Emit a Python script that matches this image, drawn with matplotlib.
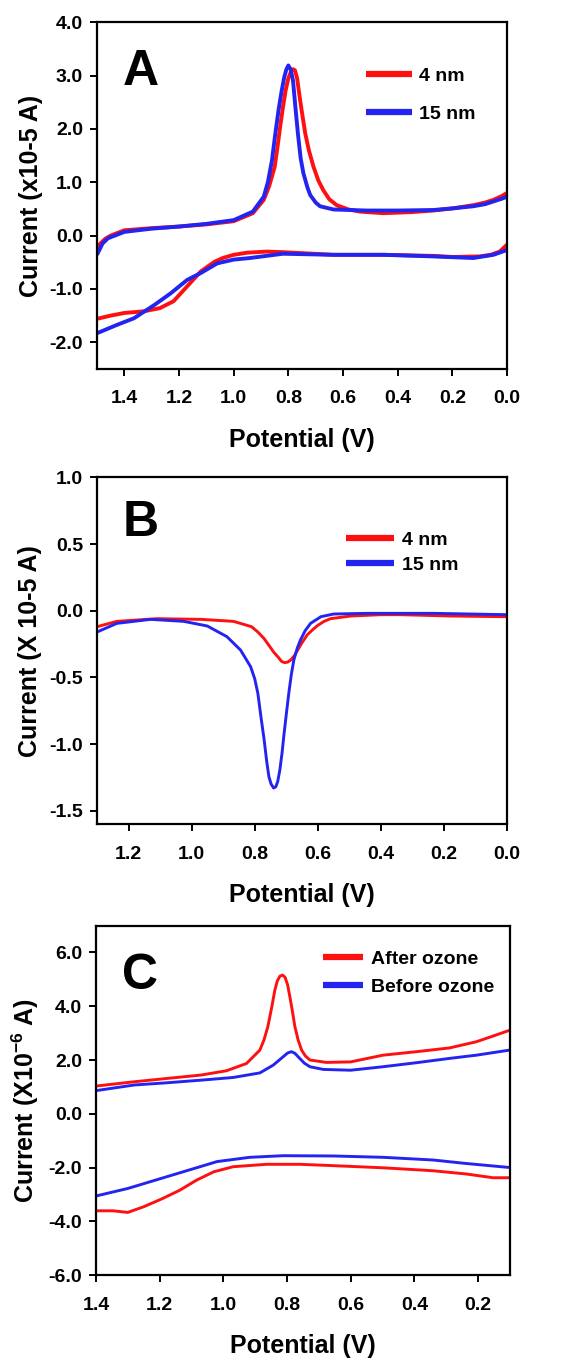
import matplotlib
matplotlib.use('Agg')
import matplotlib.pyplot as plt

plt.rcParams['font.family'] = ['Liberation Sans', 'DejaVu Sans']
plt.rcParams['font.weight'] = 'bold'
plt.rcParams['axes.unicode_minus'] = False
plt.rcParams['mathtext.fontset'] = 'custom'
plt.rcParams['mathtext.bf'] = 'Liberation Sans:bold'
plt.rcParams['mathtext.rm'] = 'Liberation Sans:bold'
plt.rcParams['mathtext.default'] = 'bf'

RED = '#ff1010'
BLUE = '#2424f0'

# ---- panel A: CV, 4 nm vs 15 nm (x1e-5 A) ----
# anodic branch (upper), then cathodic branch (lower)
a_red_up_x = [1.50, 1.47, 1.45, 1.40, 1.30, 1.20, 1.10, 1.00, 0.93, 0.89, 0.87, 0.85, 0.84, 0.83, 0.82,
              0.81, 0.80, 0.79, 0.783, 0.776, 0.768, 0.76, 0.75, 0.738, 0.725, 0.708, 0.69, 0.672, 0.65,
              0.623, 0.58, 0.538, 0.453, 0.35, 0.27, 0.20, 0.124, 0.08, 0.05, 0.02, 0.0]
a_red_up_y = [-0.21, -0.06, 0.00, 0.10, 0.14, 0.17, 0.21, 0.27, 0.42, 0.67, 0.93, 1.29, 1.65, 2.04, 2.40,
              2.72, 2.95, 3.08, 3.12, 3.10, 2.95, 2.65, 2.30, 1.91, 1.60, 1.29, 1.03, 0.85, 0.68,
              0.57, 0.49, 0.45, 0.42, 0.44, 0.47, 0.51, 0.57, 0.62, 0.67, 0.74, 0.80]
a_red_dn_x = [0.0, 0.027, 0.06, 0.10, 0.20, 0.27, 0.45, 0.635, 0.82, 0.88, 0.95, 1.00, 1.04, 1.07, 1.12,
              1.17, 1.22, 1.27, 1.33, 1.40, 1.45, 1.50]
a_red_dn_y = [-0.17, -0.30, -0.36, -0.39, -0.40, -0.38, -0.36, -0.36, -0.31, -0.30, -0.32, -0.36, -0.42, -0.49, -0.67,
              -0.95, -1.23, -1.36, -1.42, -1.45, -1.50, -1.56]
a_blue_up_x = [1.50, 1.48, 1.46, 1.40, 1.30, 1.20, 1.10, 1.00, 0.93, 0.89, 0.875, 0.86, 0.848, 0.836, 0.825,
               0.815, 0.807, 0.80, 0.792, 0.783, 0.775, 0.765, 0.755, 0.745, 0.73, 0.72, 0.70, 0.684, 0.635,
               0.513, 0.40, 0.27, 0.20, 0.124, 0.08, 0.05, 0.02, 0.0]
a_blue_up_y = [-0.36, -0.15, -0.05, 0.07, 0.13, 0.17, 0.22, 0.29, 0.45, 0.73, 1.00, 1.41, 1.90, 2.35, 2.70,
               2.97, 3.12, 3.19, 3.12, 2.91, 2.45, 1.91, 1.45, 1.17, 0.90, 0.76, 0.62, 0.55, 0.49,
               0.47, 0.47, 0.48, 0.51, 0.55, 0.59, 0.64, 0.69, 0.73]
a_blue_dn_x = [0.0, 0.05, 0.124, 0.27, 0.45, 0.635, 0.82, 0.94, 1.00, 1.06, 1.12, 1.17, 1.23, 1.29, 1.365,
               1.43, 1.50]
a_blue_dn_y = [-0.27, -0.36, -0.42, -0.39, -0.36, -0.36, -0.34, -0.42, -0.45, -0.52, -0.70, -0.83, -1.08, -1.30, -1.55,
               -1.68, -1.83]

# ---- panel B: reduction sweep (X 10-5 A) ----
b_red_x = [1.30, 1.237, 1.11, 0.97, 0.867, 0.81, 0.79, 0.77, 0.755, 0.74, 0.725, 0.715, 0.705, 0.695, 0.686,
           0.675, 0.665, 0.65, 0.633, 0.615, 0.60, 0.58, 0.56, 0.496, 0.40, 0.337, 0.178, 0.0]
b_red_y = [-0.12, -0.08, -0.06, -0.065, -0.08, -0.12, -0.16, -0.21, -0.26, -0.31, -0.35, -0.38, -0.39, -0.385, -0.37,
           -0.34, -0.30, -0.24, -0.18, -0.14, -0.11, -0.08, -0.06, -0.04, -0.03, -0.03, -0.04, -0.045]
b_blue_x = [1.30, 1.237, 1.13, 1.025, 0.95, 0.888, 0.845, 0.813, 0.80, 0.79, 0.78, 0.77, 0.762, 0.755, 0.748,
            0.74, 0.733, 0.727, 0.72, 0.713, 0.708, 0.70, 0.692, 0.684, 0.676, 0.665, 0.655, 0.64, 0.623,
            0.59, 0.55, 0.443, 0.23, 0.0]
b_blue_y = [-0.16, -0.095, -0.065, -0.08, -0.115, -0.195, -0.295, -0.42, -0.51, -0.62, -0.80, -0.97, -1.13, -1.245, -1.30,
            -1.33, -1.32, -1.28, -1.19, -1.06, -0.945, -0.78, -0.62, -0.48, -0.37, -0.28, -0.22, -0.15, -0.095,
            -0.045, -0.025, -0.02, -0.02, -0.03]

# ---- panel C: CV, after vs before ozone (X10^-6 A) ----
c_red_up_x = [1.40, 1.28, 1.18, 1.07, 0.99, 0.927, 0.885, 0.872, 0.86, 0.848, 0.838, 0.83, 0.822, 0.814,
              0.806, 0.798, 0.79, 0.782, 0.775, 0.765, 0.754, 0.742, 0.728, 0.676, 0.60, 0.498, 0.393,
              0.289, 0.205, 0.153, 0.10]
c_red_up_y = [1.03, 1.19, 1.31, 1.44, 1.60, 1.87, 2.37, 2.75, 3.24, 3.95, 4.60, 4.95, 5.12, 5.16,
              5.08, 4.80, 4.30, 3.75, 3.24, 2.75, 2.37, 2.15, 2.00, 1.91, 1.93, 2.18, 2.31,
              2.45, 2.68, 2.89, 3.11]
c_red_dn_x = [0.10, 0.153, 0.237, 0.341, 0.498, 0.655, 0.76, 0.864, 0.969, 1.03, 1.084, 1.136, 1.19,
              1.25, 1.30, 1.346, 1.40]
c_red_dn_y = [-2.38, -2.38, -2.24, -2.12, -2.01, -1.93, -1.88, -1.88, -1.97, -2.16, -2.47, -2.84, -3.15,
              -3.46, -3.67, -3.61, -3.61]
c_blue_up_x = [1.40, 1.28, 1.18, 1.07, 0.969, 0.885, 0.843, 0.812, 0.798, 0.786, 0.775, 0.76, 0.745, 0.728,
               0.686, 0.60, 0.498, 0.393, 0.289, 0.205, 0.10]
c_blue_up_y = [0.86, 1.07, 1.15, 1.25, 1.35, 1.52, 1.81, 2.12, 2.26, 2.31, 2.25, 2.06, 1.88, 1.75,
               1.65, 1.62, 1.75, 1.90, 2.06, 2.18, 2.37]
c_blue_dn_x = [0.10, 0.237, 0.341, 0.498, 0.655, 0.812, 0.917, 1.02, 1.115, 1.23, 1.30, 1.40]
c_blue_dn_y = [-2.00, -1.85, -1.72, -1.62, -1.57, -1.56, -1.62, -1.78, -2.12, -2.53, -2.78, -3.06]

fig = plt.figure(figsize=(5.64, 13.65), dpi=100)

panels = [
    dict(rect=[0.172, 0.7297, 0.727, 0.254], letter='A', lw=2.8,
         xlim=(1.5, 0.0), xticks=[1.4, 1.2, 1.0, 0.8, 0.6, 0.4, 0.2, 0.0],
         ylim=(-2.5, 4.0), yticks=[-2.0, -1.0, 0.0, 1.0, 2.0, 3.0, 4.0],
         ylabel='Current (x10-5 A)',
         series=[([a_red_up_x, a_red_dn_x], [a_red_up_y, a_red_dn_y], RED, '4 nm'),
                 ([a_blue_up_x, a_blue_dn_x], [a_blue_up_y, a_blue_dn_y], BLUE, '15 nm')],
         leg_anchor=(0.636, 0.893), labelspacing=1.06, handlelength=2.37, letter_y=0.82),
    dict(rect=[0.172, 0.3963, 0.727, 0.254], letter='B', lw=2.1,
         xlim=(1.3, 0.0), xticks=[1.2, 1.0, 0.8, 0.6, 0.4, 0.2, 0.0],
         ylim=(-1.6, 1.0), yticks=[-1.5, -1.0, -0.5, 0.0, 0.5, 1.0],
         ylabel='Current (X 10-5 A)',
         series=[([b_red_x], [b_red_y], RED, '4 nm'), ([b_blue_x], [b_blue_y], BLUE, '15 nm')],
         leg_anchor=(0.588, 0.867), labelspacing=0.4, handlelength=2.47, letter_y=0.83),
    dict(rect=[0.170, 0.0659, 0.734, 0.256], letter='C', lw=2.1,
         xlim=(1.4, 0.1), xticks=[1.4, 1.2, 1.0, 0.8, 0.6, 0.4, 0.2],
         ylim=(-6.0, 7.0), yticks=[-6.0, -4.0, -2.0, 0.0, 2.0, 4.0, 6.0],
         ylabel=r'Current (X10$^{-6}$ A)',
         series=[([c_red_up_x, c_red_dn_x], [c_red_up_y, c_red_dn_y], RED, 'After ozone'),
                 ([c_blue_up_x, c_blue_dn_x], [c_blue_up_y, c_blue_dn_y], BLUE, 'Before ozone')],
         leg_anchor=(0.529, 0.951), labelspacing=0.51, handlelength=2.1, letter_y=0.82),
]

for p in panels:
    ax = fig.add_axes(p['rect'])
    for xs_list, ys_list, col, lab in p['series']:
        for i, (xs, ys) in enumerate(zip(xs_list, ys_list)):
            ax.plot(xs, ys, color=col, lw=p['lw'], label=lab if i == 0 else None,
                    solid_joinstyle='round', solid_capstyle='butt')
    ax.set_xlim(*p['xlim'])
    ax.set_ylim(*p['ylim'])
    ax.set_xticks(p['xticks'])
    ax.set_xticklabels(['%.1f' % v for v in p['xticks']])
    ax.set_yticks(p['yticks'])
    ax.set_yticklabels(['%.1f' % v for v in p['yticks']])
    for s in ax.spines.values():
        s.set_linewidth(1.6)
    ax.tick_params(axis='both', direction='out', length=5, width=1.4, labelsize=14)
    ax.tick_params(axis='x', pad=10.5)
    ax.tick_params(axis='y', pad=5)
    for lbl in ax.get_xticklabels() + ax.get_yticklabels():
        lbl.set_fontweight('bold')
    ax.set_xlabel('Potential (V)', fontsize=18, fontweight='bold', labelpad=15)
    ax.set_ylabel(p['ylabel'], fontsize=18, fontweight='bold', labelpad=5)
    ax.text(0.063, p['letter_y'], p['letter'], transform=ax.transAxes,
            fontsize=36, fontweight='bold', va='baseline')
    leg = ax.legend(loc='upper left', bbox_to_anchor=p['leg_anchor'], frameon=False,
                    fontsize=14, handlelength=p['handlelength'], handletextpad=0.4,
                    labelspacing=p['labelspacing'], borderaxespad=0)
    for h in leg.get_lines():
        h.set_linewidth(4.5)
        h.set_solid_capstyle('butt')
    for t in leg.get_texts():
        t.set_fontweight('bold')

fig.savefig('out.png', dpi=100)
